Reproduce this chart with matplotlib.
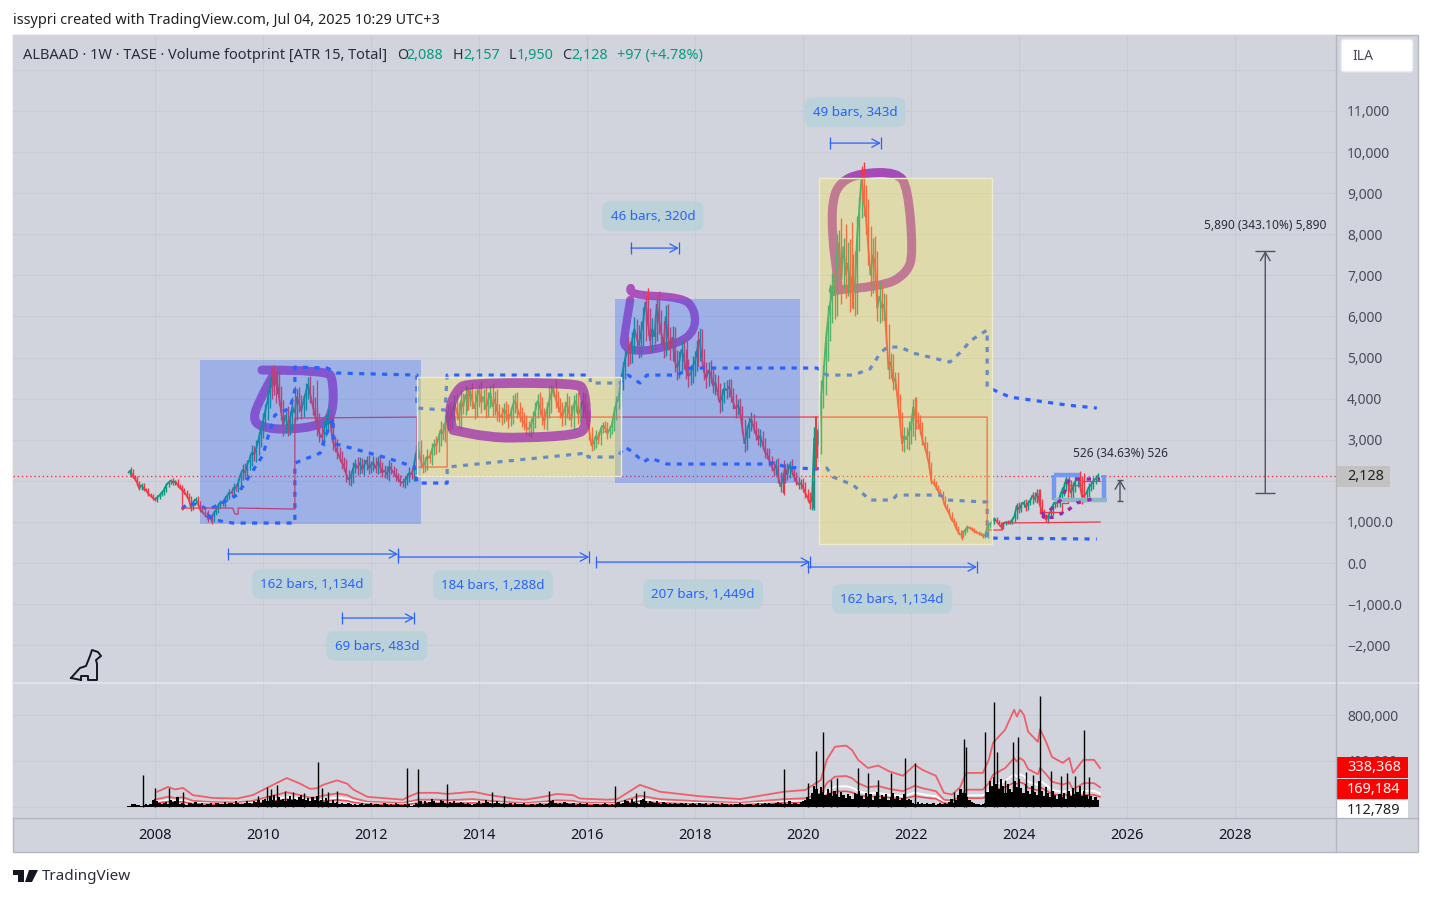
import numpy as np
import matplotlib
matplotlib.use('Agg')
import matplotlib.pyplot as plt
from matplotlib.patches import Rectangle, FancyBboxPatch, Polygon, PathPatch
from matplotlib.path import Path
from matplotlib.lines import Line2D
from matplotlib.collections import LineCollection

W, H = 1431, 897
plt.rcParams['font.family'] = ['Noto Sans', 'DejaVu Sans']

# closes, two per month, 2007.5 -> 2025.5
closes = [
    2190,2250,2120,2050,1960,1810,1900,1800,1780,1680,1640,1580,
    1540,1600,1650,1720,1780,1900,1960,2010,1950,1990,1900,1830,1780,1720,1650,1550,1350,1480,1560,1450,1300,1250,1180,1120,
    1130,1060,1210,1290,1390,1480,1440,1560,1640,1720,1700,1850,1830,1960,2150,2280,2200,2400,2520,2700,2640,2800,3000,3250,
    3450,3700,3950,4300,4600,4300,4500,4100,3700,3350,3600,3300,3500,3800,3650,4050,3900,3700,3950,4150,4350,4100,3850,3600,
    3450,3150,3050,3250,3420,3550,3400,2950,2850,2700,2580,2450,2350,2150,2020,2100,2300,2420,2300,2450,2280,2380,2500,2300,
    2380,2450,2300,2480,2350,2200,2260,2150,2350,2280,2200,2100,2050,1980,1950,2000,2100,2200,2150,2350,2680,2800,2500,2350,
    2450,2600,2550,2750,2900,2850,3050,3250,3150,3400,3700,3450,3650,3900,3700,3500,3950,3800,4100,3900,4200,3950,3750,4050,
    4200,3900,4050,3750,3950,4150,3800,4000,3700,3600,3550,3750,3650,3500,3620,3850,3950,3750,3600,3500,3400,3300,3250,3350,
    3500,3700,3950,3800,3600,3450,3700,3900,4100,4250,4000,3850,3700,3550,3750,3900,3650,3500,3850,3950,3600,3750,3950,3750,
    3500,3200,2850,2950,3100,3000,3250,3350,3300,3150,3250,3350,3650,3900,4000,4400,4700,5000,5150,5100,5400,5700,5500,5300,
    5600,5900,6350,5900,5400,5700,5500,6300,5900,5600,5300,6000,5500,5200,5500,4900,4750,4900,5200,5000,4700,4550,4600,4800,
    4900,5200,5450,5000,4650,4500,4700,4600,4300,4400,4150,3900,4050,4250,4200,4300,4100,3900,3750,3850,3700,3300,2900,3200,
    3400,3500,3300,3150,3000,3100,2900,2700,2650,2500,2350,2250,2400,2100,1850,2050,2300,2150,2400,2250,2100,2000,1900,1950,
    1850,1700,1600,1450,1550,3050,2750,3000,4100,4500,5300,5900,6300,6600,6500,7500,7800,6900,7700,7000,7300,6700,7000,6600,
    7900,8600,9400,8800,8400,7700,7000,7500,7300,6200,6500,6200,6300,5600,4700,4900,4400,4500,4000,3500,2900,3100,3000,3200,
    3300,3800,3500,3450,3300,3000,2850,2650,2400,2000,1950,1850,1750,1700,1600,1400,1300,1200,1050,1000,850,750,680,720,
    800,880,850,820,780,750,720,700,650,680,900,950,1000,1080,1020,950,880,950,1000,980,1000,1050,1150,1400,
    1300,1420,1480,1350,1460,1520,1650,1550,1700,1500,1250,1150,1050,1150,1250,1400,1500,1450,1600,1750,1850,2050,1900,1700,
    1850,2000,2050,1950,1600,1650,1700,1850,1900,2000,2050,2128,
]
# how far each bar's wick runs past its body, same grid
spans = [
    60,40,50,30,60,30,40,50,30,40,30,40,
    30,50,40,30,60,50,40,30,60,40,50,30,50,40,60,50,90,60,40,70,50,40,50,60,
    60,50,60,40,70,50,60,80,50,70,60,90,70,110,90,120,150,110,130,170,150,190,160,180,
    200,170,220,180,150,220,180,250,210,260,180,220,190,240,210,180,230,190,150,220,170,200,240,190,
    180,210,160,200,170,230,180,200,150,170,130,150,120,170,120,140,160,110,150,130,100,150,110,130,
    110,150,120,130,160,110,130,100,150,120,90,110,80,100,90,120,100,130,110,150,180,160,190,150,
    130,180,120,170,130,190,150,200,160,210,170,220,180,200,230,190,250,180,210,170,80,190,250,200,
    60,240,180,230,200,170,220,190,240,180,200,150,190,220,170,230,190,210,160,200,170,190,150,180,
    190,220,170,200,230,180,210,170,240,40,220,180,160,210,190,230,170,200,240,180,220,170,200,190,
    150,200,120,110,140,100,120,90,110,130,100,120,140,170,150,200,180,220,200,250,230,280,250,300,
    280,320,50,340,300,270,330,100,320,260,300,270,310,250,280,240,290,250,230,270,220,260,210,230,
    260,220,280,240,200,250,190,230,170,210,180,240,190,160,200,170,180,150,210,140,170,130,200,160,
    150,180,130,160,140,170,120,150,110,140,100,130,120,150,110,140,100,130,90,120,100,110,90,100,
    120,110,100,130,150,250,200,300,350,320,400,380,500,450,550,500,300,600,200,560,500,580,520,600,
    550,300,200,350,400,450,500,420,450,300,350,300,280,250,220,200,180,160,150,120,180,200,220,250,
    300,200,250,180,150,120,100,90,80,70,60,50,50,60,50,40,40,40,30,40,30,50,60,40,
    30,40,30,30,40,30,30,30,40,40,60,50,50,40,40,30,40,40,30,40,30,40,60,70,
    80,70,60,90,70,60,80,70,90,100,70,60,50,70,60,80,70,90,80,100,120,100,110,130,
    130,110,150,180,160,120,110,100,90,100,80,60,
]
# extra wicks
wick_years = [2007.55,2008.5,2008.98,2009.05,2010.17,2010.24,2010.59,2011.0,2013.78,2014.0,2015.3,2016.76,2017.1,2017.3,2017.85,2018.05,
              2019.65,2020.19,2020.9,2021.09,2021.3,2022.07,2022.95,2024.39,2025.2]
wick_lows = [2100,1300,1000,950,4000,3900,3200,3100,3700,3800,3700,4800,5400,5500,4600,4800,1650,1350,6200,8800,6800,3000,560,1200,1500]
wick_highs = [2330,1900,1300,1200,4800,4700,4300,4450,4300,4350,4300,5500,6500,6550,5400,5650,2500,2000,8300,9660,7700,4050,800,1800,2200]

# blue dotted bands
upper_years = [2008.5,2008.61,2008.83,2008.98,2009.52,2009.76,2010.0,2010.09,2010.22,2010.5,2010.59,2010.59,2011.19,2011.37,2012.85,2012.85,2013.37,2013.41,2016.06,2016.06,2016.61,2016.76,2016.98,2017.11,2017.67,2017.91,2020.26,2020.37,2020.44,2020.93,2021.24,2021.43,2021.56,2021.8,2022.04,2022.72,2022.96,2023.09,2023.41,2023.41,2023.83,2024.89,2025.44]
upper_vals = [1314,1460,1411,1289,1654,2141,2628,3066,3601,3771,4209,4769,4745,4623,4574,3771,3723,4574,4574,4380,4380,4574,4380,4574,4574,4745,4745,4647,4574,4574,4720,5109,5255,5255,5109,4890,5182,5401,5669,4282,4039,3844,3771]
lower_years = [2008.98,2009.11,2009.44,2010.59,2010.59,2011.06,2011.15,2011.3,2011.3,2011.43,2012.3,2012.81,2012.85,2013.41,2013.41,2016.0,2016.02,2016.56,2016.7,2016.85,2017.04,2017.17,2017.48,2019.2,2019.44,2019.7,2020.19,2020.44,2020.56,2020.93,2021.24,2021.65,2021.74,2022.54,2022.67,2023.41,2023.41,2025.44]
lower_vals = [1168,1046,973,973,2433,2676,3066,3528,2900,2871,2555,2336,1946,1946,2336,2676,2579,2579,2822,2700,2457,2555,2409,2409,2433,2336,2287,2311,2092,1898,1533,1533,1654,1654,1533,1484,608,584]

# thin red point-of-control steps
poc_years = [2008.5,2009.44,2009.48,2009.54,2009.54,2010.59,2010.59,2012.85,2012.85,2013.41,2013.41,2020.24,2020.24,2020.24,2023.41,2023.41,2023.69,2023.69,2025.5]
poc_vals = [1338,1338,1192,1192,1338,1314,3528,3552,2336,2336,3552,3552,2263,3552,3552,803,803,973,998]
poc2_years = [2024.39,2024.8,2024.8,2024.91,2024.91,2025.17,2025.17,2025.5]
poc2_vals = [1241,1241,1460,1460,1898,1898,1995,1995]

# hand drawn brush strokes
brush1_years = [2009.98,2011.19,2011.3,2011.3,2011.11,2010.44,2009.94,2009.81,2009.94,2010.17]
brush1_vals = [4696,4696,4452,3650,3358,3236,3309,3528,3966,4525]
brush2_years = [2013.5,2013.43,2013.59,2013.78,2015.81,2015.96,2016.0,2015.81,2014.76,2014.15,2013.52]
brush2_vals = [3309,3723,4209,4380,4380,4209,3309,3114,3041,3066,3236]
brush3_years = [2016.81,2016.74,2017.78,2018.0,2018.0,2017.72,2017.04,2016.67,2016.7,2016.8]
brush3_vals = [6691,6521,6472,6156,5669,5353,5134,5231,5596,6399]
brush4_years = [2020.56,2021.48,2021.93,2022.04,2021.94,2021.74,2021.06,2020.69,2020.54,2020.54,2020.63,2020.65]
brush4_vals = [6642,6715,7056,7542,9148,9513,9489,9270,8832,7932,7056,6642]

# 2025 zone
zone_left = [2024.65,2024.65]
zone_right = [2025.57,2025.57]
zone_top_years = [2024.65,2025.13]
zone_bot_years = [2024.65,2025.63]
zone_top = 2130
zone_bot = 1533
dots1_years = [2024.43,2024.48,2024.67,2024.8,2024.91]
dots1_vals = [1241,1095,1119,1216,1095]
dots2_years = [2024.43,2024.63,2024.81,2024.89,2024.94,2025.5]
dots2_vals = [1095,1362,1581,1946,2044,2044]
dots3_years = [2024.91,2025.07,2025.35]
dots3_vals = [1289,1460,1557]

# shaded boxes: year0, year1, price0, price1
blue_boxes = [(2008.83,2012.93,949,4939),(2016.52,2019.94,1946,6423)]
yellow_boxes = [(2012.85,2016.63,2117,4525),(2020.3,2023.5,462,9367)]

# date ranges: start, end, price, then label
range_starts = [2009.35,2012.5,2016.17,2020.09,2011.46,2016.81,2020.5]
range_ends = [2012.5,2016.04,2020.13,2023.22,2012.8,2017.7,2021.44]
range_levels = [219,146,24,-97,-1338,7664,10219]
range_labels = ['162 bars, 1,134d','184 bars, 1,288d','207 bars, 1,449d','162 bars, 1,134d','69 bars, 483d','46 bars, 320d','49 bars, 343d']
label_years = [2010.91,2014.26,2018.15,2021.65,2012.11,2017.22,2020.96]
label_levels = [-511,-535,-754,-876,-2019,8443,10973]

price_ticks = [11000,10000,9000,8000,7000,6000,5000,4000,3000,2000,1000,0,-1000,-2000]
price_labels = ['11,000','10,000','9,000','8,000','7,000','6,000','5,000','4,000','3,000','','1,000.0','0.0','−1,000.0','−2,000']
year_ticks = [2008,2010,2012,2014,2016,2018,2020,2022,2024,2026,2028]

# volume, thousands, same two-per-month grid
volumes = [
    8,6,18,24,16,12,6,14,20,10,22,60,
    70,45,35,25,30,40,18,60,40,45,85,20,30,25,15,35,30,20,40,25,18,30,15,22,
    20,28,15,30,35,25,18,40,20,28,35,22,45,30,18,25,35,50,30,25,45,40,60,35,
    55,70,45,90,60,100,50,85,60,70,50,65,90,55,70,60,80,100,65,60,75,50,85,60,
    90,50,55,40,75,45,35,60,30,40,25,35,20,18,30,22,15,25,12,18,30,15,25,20,
    35,12,18,25,10,15,30,20,12,25,10,30,20,15,12,25,10,18,8,15,30,22,45,25,
    50,30,40,70,45,35,30,60,45,30,25,40,30,50,35,28,40,30,20,35,25,15,22,30,
    45,25,30,55,40,35,20,30,45,28,18,35,25,20,30,15,35,20,25,18,30,15,12,20,
    25,15,20,30,18,12,22,30,45,55,30,25,35,20,40,28,18,25,35,15,20,30,25,18,
    30,15,12,25,18,22,15,20,30,18,12,25,15,35,40,25,35,60,50,35,70,40,30,25,
    60,70,45,35,50,40,30,45,35,25,40,30,25,35,20,30,25,18,30,22,28,15,20,30,
    22,15,30,25,18,28,15,22,35,18,25,15,30,22,18,12,20,15,25,18,30,22,15,18,
    25,18,12,22,30,15,20,28,18,35,22,25,30,40,28,18,30,25,45,22,30,35,25,40,
    50,60,80,70,120,180,150,110,170,130,100,150,120,90,140,110,80,130,100,75,110,95,70,120,
    110,140,90,70,120,80,110,60,90,130,70,100,80,110,60,85,120,70,95,60,75,110,55,70,
    60,30,25,40,22,28,18,35,25,20,30,15,25,35,20,30,25,40,70,35,60,100,150,120,
    120,80,60,40,30,20,25,15,20,35,130,220,180,260,200,150,240,180,120,200,150,130,220,170,
    240,160,120,200,140,110,180,130,100,220,140,90,170,120,80,140,100,70,110,85,120,70,140,95,
    160,110,130,180,90,140,100,70,90,60,80,60,
]
spike_years = [2007.78,2008.0,2008.26,2008.52,2009.9,2010.07,2010.15,2010.26,2010.4,2010.55,2010.75,2011.02,2011.1,2011.2,2011.37,2012.67,2012.87,2013.41,2014.24,2014.46,2015.3,2016.52,
               2016.9,2017.05,2019.65,2020.09,2020.24,2020.37,2020.52,2020.62,2021.02,2021.2,2021.39,2021.63,2021.89,2022.07,2022.8,2022.98,2023.02,2023.37,
               2023.54,2023.59,2023.74,2023.89,2023.99,2024.13,2024.25,2024.39,2024.6,2024.78,2024.89,2025.04,2025.2,2025.3]
spike_vols = [277,163,163,127,90,172,150,190,140,130,120,390,160,130,140,338,330,198,125,90,140,180,
              120,140,330,207,488,656,233,250,338,295,233,295,427,383,130,594,525,656,
              920,480,233,568,612,300,280,972,310,270,295,270,673,260]

ma_years = [2008.04,2008.24,2008.37,2008.52,2008.7,2009.07,2009.52,2009.81,2010.07,2010.44,2010.69,2010.87,2011.0,2011.11,2011.37,2011.56,2011.67,2011.93,2012.59,2012.69,2012.87,2013.22,2013.41,2013.89,2014.2,2014.63,2014.85,2015.19,2015.44,2015.74,2015.87,2016.37,2016.56,2016.98,2017.35,2018.09,2018.83,2019.65,2020.04,2020.33,2020.44,2020.59,2020.8,2020.91,2021.02,2021.2,2021.39,2021.59,2021.85,2022.07,2022.22,2022.46,2022.61,2022.76,2022.91,2023.02,2023.33,2023.44,2023.52,2023.74,2023.91,2023.96,2024.02,2024.09,2024.17,2024.35,2024.39,2024.5,2024.61,2024.81,2024.93,2025.0,2025.19,2025.39,2025.5]
ma_top = [130,172,150,163,100,75,70,100,163,250,200,155,160,190,230,200,150,85,60,85,120,120,110,130,100,70,60,85,110,100,70,60,65,190,130,90,65,130,145,233,410,525,535,495,410,338,360,310,270,365,320,270,120,105,170,295,295,410,560,673,850,790,850,805,656,568,680,570,435,383,427,295,410,410,338]
ma_mid = [65,86,75,82,50,38,35,50,82,125,100,78,80,95,115,100,75,42,30,42,60,60,55,65,50,35,30,42,55,50,35,30,32,95,65,45,32,65,72,116,205,262,268,248,205,169,180,155,135,182,160,135,60,52,85,148,148,205,280,336,425,395,425,402,328,284,340,285,218,192,214,148,205,205,169]
ma_white = [43,57,50,54,33,25,23,33,54,83,67,52,53,63,77,67,50,28,20,28,40,40,37,43,33,23,20,28,37,33,23,20,22,63,43,30,22,43,48,78,137,175,178,165,137,113,120,103,90,122,107,90,40,35,57,98,98,137,187,224,283,263,283,268,219,189,227,190,145,128,142,98,137,137,113]
ma_low = [32,43,38,41,25,19,18,25,41,62,50,39,40,48,58,50,38,21,15,21,30,30,28,32,25,18,15,21,28,25,18,15,16,48,32,22,16,32,36,58,102,131,134,124,102,85,90,78,68,91,80,68,30,26,42,74,74,102,140,168,212,198,212,201,164,142,170,142,109,96,107,74,102,102,85]

BG = '#d1d4dc'
GRID = '#c8cbd4'
BORDER = '#b4b7c0'
BLUE = '#2962ff'
UP = '#089981'
DOWN = '#f23645'
PURPLE = '#9c27b0'
AXTXT = '#4a4d58'


def fx(x):
    return x / W


def fy(y):
    return 1 - y / H


def ptext(x, y, s, **kw):
    kw.setdefault('va', 'center')
    kw.setdefault('fontsize', 10)
    fig.text(fx(x), fy(y), s, **kw)


def pbox(x0, y0, x1, y1, **kw):
    fig.add_artist(Rectangle((fx(x0), fy(y1)), (x1 - x0) / W, (y1 - y0) / H, transform=fig.transFigure, **kw))


def draw_brush(a, xs, ys, lw, alpha, zorder):
    # quadratic curves through the midpoints, so the stroke has soft corners
    verts = [(xs[0], ys[0])]
    codes = [Path.MOVETO]
    for i in range(1, len(xs) - 1):
        verts += [(xs[i], ys[i]), ((xs[i] + xs[i + 1]) / 2, (ys[i] + ys[i + 1]) / 2)]
        codes += [Path.CURVE3, Path.CURVE3]
    verts.append((xs[-1], ys[-1]))
    codes.append(Path.LINETO)
    a.add_patch(PathPatch(Path(verts, codes), fill=False, edgecolor=PURPLE, lw=lw, alpha=alpha,
                          capstyle='round', joinstyle='round', zorder=zorder))


fig = plt.figure(figsize=(W / 100, H / 100), dpi=100, facecolor='white')
pbox(13, 35, 1418, 852, facecolor=BG, edgecolor=BORDER, lw=1, zorder=-5)

ax = fig.add_axes([fx(13), fy(682), (1336 - 13) / W, (682 - 35) / H], facecolor=BG)
vax = fig.add_axes([fx(13), fy(818), (1336 - 13) / W, (818 - 683) / H], facecolor=BG)

xlim = (2005.37, 2029.87)
for a in (ax, vax):
    a.set_xlim(*xlim)
    a.grid(True, color=GRID, lw=0.8)
    a.set_axisbelow(True)
    for s in a.spines.values():
        s.set_visible(False)
    a.set_xticks(year_ticks)

ax.set_ylim(-2895, 12849)
ax.yaxis.tick_right()
ax.set_yticks(price_ticks + [12000])
ax.set_yticklabels(price_labels + [''], fontsize=10, color=AXTXT)
ax.tick_params(axis='y', length=0, pad=8)
ax.tick_params(axis='x', length=0, labelbottom=False)

# candles
years = 2007.5 + np.arange(len(closes)) / 24
segs = [[(years[i - 1], closes[i - 1]), (years[i], closes[i])] for i in range(1, len(closes))]
cols = [UP if closes[i] >= closes[i - 1] else DOWN for i in range(1, len(closes))]
ax.add_collection(LineCollection(segs, colors=cols, linewidths=1.3, zorder=3))
body_low = [min(closes[i - 1], closes[i]) - spans[i] for i in range(1, len(closes))]
body_high = [max(closes[i - 1], closes[i]) + spans[i] for i in range(1, len(closes))]
ax.vlines(years[1:], body_low, body_high, colors=cols, lw=1.0, zorder=3)
ax.vlines(wick_years, wick_lows, wick_highs, colors=DOWN, lw=0.9, zorder=3)

dots = dict(color=BLUE, lw=2.3, ls=(0, (1.6, 2)), zorder=3)
ax.plot(upper_years, upper_vals, **dots)
ax.plot(lower_years, lower_vals, **dots)
ax.plot(poc_years, poc_vals, color=DOWN, lw=0.9, zorder=3)
ax.plot(poc2_years, poc2_vals, color=DOWN, lw=0.9, zorder=3)
ax.axhline(2128, color=DOWN, lw=1, ls=(0, (1, 2)), zorder=3)

draw_brush(ax, brush1_years, brush1_vals, 6.5, 0.75, 2)
draw_brush(ax, brush3_years, brush3_vals, 6, 0.75, 2)
draw_brush(ax, brush4_years, brush4_vals, 6.5, 0.8, 2)
draw_brush(ax, brush2_years, brush2_vals, 7, 0.72, 6)

for y0, y1, p0, p1 in blue_boxes:
    ax.add_patch(Rectangle((y0, p0), y1 - y0, p1 - p0, facecolor=BLUE, alpha=0.3, lw=0, zorder=4))
for y0, y1, p0, p1 in yellow_boxes:
    ax.add_patch(Rectangle((y0, p0), y1 - y0, p1 - p0, facecolor=(1, 0.92, 0.23, 0.3), edgecolor='#ecebd0', lw=1, zorder=4))

# 2025 zone
zone = dict(color='#7497f2', lw=3.2, solid_capstyle='butt', zorder=5)
ax.plot(zone_left, [zone_bot, zone_top], **zone)
ax.plot(zone_right, [zone_bot, zone_top], **zone)
ax.plot(zone_top_years, [zone_top, zone_top], **zone)
ax.plot(zone_bot_years, [zone_bot, zone_bot], color='#8db6c6', lw=3.2, solid_capstyle='butt', zorder=5)
pdots = dict(color=PURPLE, lw=2.4, ls=(0, (1.3, 2)), zorder=6)
ax.plot(dots1_years, dots1_vals, **pdots)
ax.plot(dots2_years, dots2_vals, **pdots)
ax.plot(dots3_years, dots3_vals, **pdots)

# date ranges
for x0, x1, lev, lab, lx, ll in zip(range_starts, range_ends, range_levels, range_labels, label_years, label_levels):
    ax.annotate('', xy=(x1, lev), xytext=(x0, lev), zorder=7,
                arrowprops=dict(arrowstyle='->,head_length=0.55,head_width=0.3',
                                color=BLUE, lw=0.9, shrinkA=0, shrinkB=0))
    ax.plot([x0, x1], [lev, lev], ls='none', marker='|', ms=8, mew=0.9, color=BLUE, zorder=7)
    ax.text(lx, ll, lab, color=BLUE, fontsize=9.6, ha='center', va='center', zorder=8,
            bbox=dict(boxstyle='round,pad=0.62', facecolor='#b9d2da', edgecolor='none', alpha=0.9))

# price ranges
for x, p0, p1, lab, tp, ms in [(2028.56, 1703, 7593, '5,890 (343.10%) 5,890', 8210, 15),
                               (2025.87, 1508, 2030, '526 (34.63%) 526', 2665, 5)]:
    ax.annotate('', xy=(x, p1), xytext=(x, p0), zorder=7,
                arrowprops=dict(arrowstyle='->,head_length=0.6,head_width=0.35',
                                color='#50535e', lw=1, shrinkA=0, shrinkB=0))
    ax.plot([x, x], [p0, p1], ls='none', marker='_', ms=ms, mew=1, color='#50535e', zorder=7)
    ax.text(x, tp, lab, color='#2a2e39', fontsize=8.6, ha='center', va='center', zorder=7)

# volume pane
vax.set_ylim(-101, 1085)
vax.yaxis.tick_right()
vax.set_yticks([0, 400, 800])
vax.set_yticklabels(['', '400,000', '800,000'], fontsize=10, color=AXTXT)
vax.tick_params(axis='y', length=0, pad=8)
vax.tick_params(axis='x', length=0, pad=7, labelsize=10.5, labelcolor='#131722')
vax.set_xticklabels([str(y) for y in year_ticks])
for lab in vax.get_xticklabels():
    lab.set_fontweight('medium')
vax.plot(ma_years, ma_top, color='#ee5f69', lw=1.3, zorder=2)
vax.plot(ma_years, ma_mid, color='#ee5f69', lw=1.3, zorder=2)
vax.plot(ma_years, ma_white, color='white', lw=1.3, zorder=2)
vax.plot(ma_years, ma_low, color='#f0444f', lw=1.1, zorder=2)
vyears = 2007.5 + np.arange(len(volumes)) / 24
vax.bar(vyears, volumes, width=1 / 24, color='black', zorder=3)
vax.vlines(spike_years, 0, spike_vols, colors='black', lw=1.0, zorder=3)

# pane furniture
fig.add_artist(Line2D([fx(13), fx(1418)], [fy(682.5)] * 2, color='#e4e6ec', lw=1.2))
fig.add_artist(Line2D([fx(1336)] * 2, [fy(35), fy(852)], color=BORDER, lw=1))
fig.add_artist(Line2D([fx(13), fx(1418)], [fy(818)] * 2, color=BORDER, lw=1))

fig.add_artist(FancyBboxPatch((fx(1344), fy(69)), 66 / W, 27 / H, boxstyle='round,pad=0.002', transform=fig.transFigure,
                              facecolor='white', edgecolor='#e8e9ee', lw=1, mutation_aspect=W / H))
ptext(1352, 56, 'ILA', color='#4a4d58', fontsize=10)

pbox(1337, 466, 1390, 487, facecolor='#c2c2c0', lw=0)
ptext(1347, 476.5, '2,128', color='#222222', fontsize=10.4)
pbox(1337, 757, 1408, 777.5, facecolor='#ff0000', lw=0)
ptext(1347, 767.5, '338,368', color='white', fontsize=10.4)
pbox(1337, 779, 1408, 799, facecolor='#ff0000', lw=0)
ptext(1347, 789.5, '169,184', color='white', fontsize=10.4)
pbox(1337, 800, 1408, 818, facecolor='white', lw=0)
ptext(1347, 810, '112,789', color='#222222', fontsize=10.4)

# header and legend
ptext(13, 24, 'issypri created with TradingView.com, Jul 04, 2025 10:29 UTC+3', color='#222222', fontsize=10.4, va='baseline')
ptext(23, 59, 'ALBAAD · 1W · TASE · Volume footprint [ATR 15, Total]', color='#2a2e39', fontsize=10.5, va='baseline')
for x, s, c in [(397, 'O', '#2a2e39'), (406, '2,088', UP), (453, 'H', '#2a2e39'), (463, '2,157', UP),
                (509, 'L', '#2a2e39'), (517, '1,950', UP), (562, 'C', '#2a2e39'), (571, '2,128', UP),
                (617, '+97 (+4.78%)', UP)]:
    ptext(x, 59, s, color=c, fontsize=10.3, va='baseline')

# TradingView logo
fig.add_artist(Polygon([(fx(13), fy(870)), (fx(24), fy(870)), (fx(24), fy(882)), (fx(18), fy(882)), (fx(18), fy(875)), (fx(13), fy(875))],
                       closed=True, facecolor='#131722', transform=fig.transFigure))
fig.add_artist(Polygon([(fx(29), fy(870)), (fx(38), fy(870)), (fx(32), fy(882)), (fx(25), fy(882))],
                       closed=True, facecolor='#131722', transform=fig.transFigure))
ptext(42, 876, 'TradingView', color='#2a2e39', fontsize=11)

# dino icon
dino_x = [71, 80, 86, 90, 92, 98, 101, 96, 97, 97, 88, 88, 81, 81]
dino_y = [678, 668, 666, 656, 650, 652, 656, 660, 664, 680, 680, 676, 676, 680]
fig.add_artist(Line2D([fx(x) for x in dino_x], [fy(y) for y in dino_y], color='#131722', lw=1.4))
fig.add_artist(Line2D([fx(71), fx(81)], [fy(678), fy(680)], color='#131722', lw=1.4))

fig.savefig('out.png', dpi=100)
